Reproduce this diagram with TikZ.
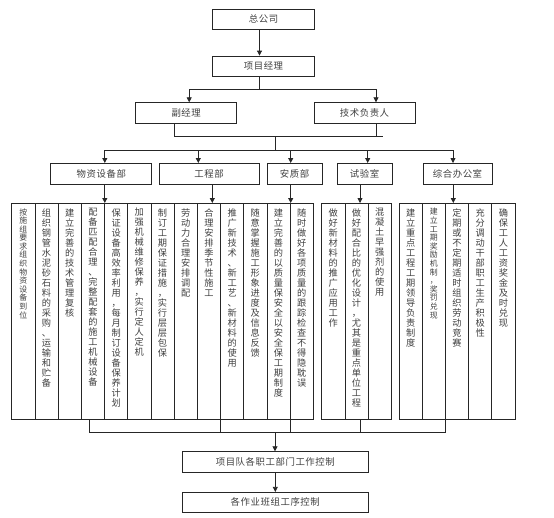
\documentclass[tikz,border=0pt]{standalone}
\usepackage{fontspec}
\usetikzlibrary{arrows.meta}
\newfontfamily\cjk[LetterSpace=6]{Noto Sans CJK SC}
\newfontfamily\cjkv{Noto Sans CJK SC}
\definecolor{ink}{HTML}{262626}
\definecolor{inkText}{HTML}{404040}

\ExplSyntaxOn
\NewDocumentCommand\vtxt{mm}{
  \fontsize{#1}{#1}\selectfont
  \tl_set:Nx \l_tmpa_tl {#2}
  \vbox~to~206pt{
    \baselineskip=1.087\dimexpr#1pt\relax
    \lineskiplimit=-20pt
    \tl_map_inline:Nn \l_tmpa_tl {\hbox{##1}}
    \vss}
}
\ExplSyntaxOff

\begin{document}
\begin{tikzpicture}[x=1pt,y=-1pt,
  box/.style={draw=ink,line width=0.8pt,minimum height=20.6pt,inner sep=0pt,text=inkText,font=\cjk\fontsize{9.4}{10}\selectfont},
  colbox/.style={draw=ink,line width=0.7pt,anchor=north,minimum width=23.2pt,inner xsep=0pt,inner ysep=5pt,text=inkText,font=\cjkv},
  conn/.style={draw=ink,line width=0.8pt},
  conna/.style={conn,-{Triangle[width=5pt,length=5pt]}}]
  \path[use as bounding box] (0,0) rectangle (554,517);
  \node[box,minimum width=101.6pt,minimum height=19.7pt] (hq) at (263.5,19.2) {总公司};
  \node[box,minimum width=101.6pt] (pm) at (263.5,66.3) {项目经理};
  \node[box,minimum width=101pt] (dpm) at (186.2,113) {副经理};
  \node[box,minimum width=101pt] (tech) at (364.5,113) {技术负责人};
  \foreach \dep/\x/\w/\lbl in {mat/101.3/101/物资设备部,eng/209/100/工程部,qs/294.5/55/安质部,lab/364.5/55/试验室,off/457.5/69/综合办公室}
    \node[box,minimum width=\w pt] (\dep) at (\x,173.7) {\lbl};
  \node[box,minimum width=186pt] (ctrl) at (275.3,462) {项目队各职工部门工作控制};
  \node[box,minimum width=186pt,minimum height=20pt] (team) at (275.3,502.3) {各作业班组工序控制};

  \foreach \fs/\lbl [count=\i] in {7.9/按施组要求组织物资设备到位,9.2/组织钢管水泥砂石料的采购、运输和贮备,9.2/建立完善的技术管理复核,9.2/配备匹配合理、完整配套的施工机械设备,9.2/保证设备高效率利用，每月制订设备保养计划,9.2/加强机械维修保养，实行定人定机,9.2/制订工期保证措施，实行层层包保,9.2/劳动力合理安排调配,9.2/合理安排季节性施工,9.2/推广新技术、新工艺、新材料的使用,9.2/随意掌握施工形象进度及信息反馈,9.2/建立完善的以质量保安全以安全保工期制度,9.2/随时做好各项质量的跟踪检查不得隐耽误}
    \node[colbox] (c\i) at ({11.7+23.2*(\i-0.5)},203) {\vtxt{\fs}{\lbl}};
  \foreach \fs/\lbl [count=\i from 14] in {9.2/做好新材料的推广应用工作,9.2/做好配合比的优化设计，尤其是重点单位工程,9.2/混凝土早强剂的使用}
    \node[colbox] (c\i) at ({321.7+23.2*(\i-13.5)},203) {\vtxt{\fs}{\lbl}};
  \foreach \fs/\lbl [count=\i from 17] in {9.2/建立重点工程工期领导负责制度,7.9/建立工期奖励机制，奖罚兑现,9.2/定期或不定期适时组织劳动竞赛,9.2/充分调动干部职工生产积极性,9.2/确保工人工资奖金及时兑现}
    \node[colbox] (c\i) at ({399+23.2*(\i-16.5)},203) {\vtxt{\fs}{\lbl}};

  \draw[conna] ([xshift=-4pt]hq.south) -- ([xshift=-4pt]pm.north);
  \draw[conna] ([xshift=-4pt]pm.south) -- ++(0,12.3) -| ([xshift=3pt]dpm.north);
  \draw[conna] ([xshift=-4pt]pm.south) -- ++(0,12.3) -| ([xshift=11.5pt]tech.north);
  \coordinate (mgr) at (275,136);
  \coordinate (mgrEnd) at (383.3,136);
  \coordinate (bus) at (275,150.3);
  \draw[conn] ([xshift=-12pt]dpm.south) |- (mgrEnd);
  \draw[conn] ([xshift=11.5pt]tech.south) -- ([xshift=11.5pt]tech.south |- mgr);
  \draw[conn] (mgr) -- (bus);
  \foreach \dep/\dx in {mat/3.5,eng/-10.7,qs/-3.8,lab/3.2,off/-4.5}
    \draw[conna] (bus) -| ([xshift=\dx pt]\dep.north);
  \foreach \dep/\dx/\c in {mat/3.5/c4,eng/3.3/c9,qs/-3.8/c12,lab/-4.5/c15,off/-4.2/c19}
    \draw[conna] ([xshift=\dx pt]\dep.south) -- ([xshift=\dx pt]\dep.south |- \c.north);

  \coordinate (join) at (275,432);
  \draw[conn] ([xshift=-3.9pt]c4.south) |- (c18.south east |- join) -- (c18.south east);
  \foreach \c in {c9,c12}
    \draw[conn] (\c.south east) -- (\c.south east |- join);
  \draw[conn] ([xshift=4.2pt]c15.south) -- ([xshift=4.2pt]c15.south |- join);
  \draw[conna] (join) -- (join |- ctrl.north);
  \draw[conna] (ctrl) -- (team);
\end{tikzpicture}
\end{document}
